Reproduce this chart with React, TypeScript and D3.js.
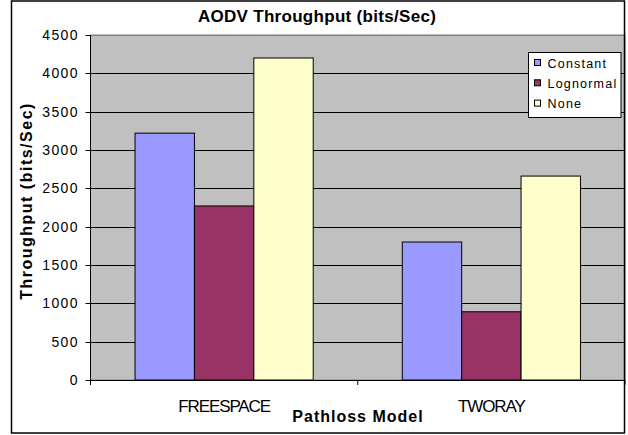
import React from 'react';
import * as d3 from 'd3';

const categories = ['FREESPACE', 'TWORAY'];
const seriesNames = ['Constant', 'Lognormal', 'None'];
const constantValues = [3220, 1800];
const lognormalValues = [2270, 890];
const noneValues = [4200, 2660];
const yTicks = [0, 500, 1000, 1500, 2000, 2500, 3000, 3500, 4000, 4500];
const seriesColors = ['#9999FF', '#993366', '#FFFFCC'];

const W = 628;
const H = 435;
const plot = { left: 90.5, right: 625, top: 35, bottom: 380 };
const FONT = "'Liberation Sans', Arial, sans-serif";

export default function App() {
  const seriesValues = [constantValues, lognormalValues, noneValues];
  const x0 = d3.scaleBand<string>().domain(categories).range([plot.left, plot.right]).padding(0);
  const x1 = d3
    .scaleBand<string>()
    .domain(seriesNames)
    .range([0, x0.bandwidth()])
    .paddingInner(0)
    .paddingOuter(0.75);
  const y = d3.scaleLinear().domain([0, 4500]).range([plot.bottom, plot.top]);
  const catTicks = [plot.left, ...categories.map((c) => (x0(c) as number) + x0.bandwidth())];

  const legend = { x: 528.5, y: 52.5, w: 92.5, h: 65 };

  return (
    <svg
      width={W}
      height={H}
      style={{ position: 'absolute', left: 0, top: 0, display: 'block' }}
      fontFamily={FONT}
    >
      <rect x={0} y={0} width={W} height={H} fill="#ffffff" />
      {/* plot area */}
      <rect
        x={plot.left}
        y={plot.top}
        width={plot.right - plot.left}
        height={plot.bottom - plot.top}
        fill="#C0C0C0"
        stroke="#808080"
        strokeWidth={1}
      />
      {/* gridlines */}
      {yTicks.slice(1).map((t) => (
        <line
          key={'g' + t}
          x1={plot.left}
          x2={plot.right}
          y1={Math.round(y(t)) + 0.5}
          y2={Math.round(y(t)) + 0.5}
          stroke={t === 4500 ? '#808080' : '#000'}
          strokeWidth={1}
        />
      ))}
      {/* bars */}
      {categories.map((c, ci) =>
        seriesNames.map((s, si) => {
          const bx = (x0(c) as number) + (x1(s) as number);
          const v = seriesValues[si][ci];
          return (
            <rect
              key={c + s}
              x={bx}
              y={y(v)}
              width={x1.bandwidth()}
              height={plot.bottom - y(v)}
              fill={seriesColors[si]}
              stroke="#000"
              strokeWidth={1}
            />
          );
        })
      )}
      {/* y axis */}
      <line x1={plot.left} x2={plot.left} y1={plot.top} y2={plot.bottom} stroke="#000" />
      {yTicks.map((t) => (
        <g key={'t' + t}>
          <line
            x1={plot.left - 5}
            x2={plot.left}
            y1={Math.round(y(t)) + 0.5}
            y2={Math.round(y(t)) + 0.5}
            stroke="#000"
          />
          <text
            x={79}
            y={y(t)}
            dy="0.36em"
            textAnchor="end"
            fontSize={14}
            letterSpacing={1.4}
            fill="#000"
          >
            {t}
          </text>
        </g>
      ))}
      {/* x axis */}
      <line x1={plot.left} x2={plot.right} y1={plot.bottom + 0.5} y2={plot.bottom + 0.5} stroke="#000" />
      {catTicks.map((tx, i) => (
        <line key={'ct' + i} x1={tx} x2={tx} y1={plot.bottom} y2={plot.bottom + 5} stroke="#000" />
      ))}
      {categories.map((c) => (
        <text
          key={'cl' + c}
          x={(x0(c) as number) + x0.bandwidth() / 2}
          y={411.7}
          textAnchor="middle"
          fontSize={17}
          letterSpacing={-1.1}
          fill="#000"
        >
          {c}
        </text>
      ))}
      {/* titles */}
      <text x={317} y={21.7} textAnchor="middle" fontSize={17} fontWeight="bold" letterSpacing={0.3} fill="#000">
        AODV Throughput (bits/Sec)
      </text>
      <text
        x={358}
        y={421.7}
        textAnchor="middle"
        fontSize={16}
        fontWeight="bold"
        letterSpacing={1.0}
        fill="#000"
      >
        Pathloss Model
      </text>
      <text
        transform="translate(32, 201) rotate(-90)"
        textAnchor="middle"
        fontSize={16}
        fontWeight="bold"
        letterSpacing={1.5}
        fill="#000"
      >
        Throughput (bits/Sec)
      </text>
      {/* legend */}
      <rect x={legend.x} y={legend.y} width={legend.w} height={legend.h} fill="#fff" stroke="#000" />
      {seriesNames.map((s, i) => {
        const cy = legend.y + 10.5 + i * 20.3;
        return (
          <g key={'l' + s}>
            <rect x={534.5} y={cy - 3.5} width={6} height={6} fill={seriesColors[i]} stroke="#000" />
            <text x={547.5} y={cy} dy="0.36em" fontSize={12.5} letterSpacing={1.2} fill="#000">
              {s}
            </text>
          </g>
        );
      })}
      {/* chart border */}
      <rect x={11.5} y={1} width={613} height={432} fill="none" stroke="#000" strokeWidth={1.5} />
    </svg>
  );
}
